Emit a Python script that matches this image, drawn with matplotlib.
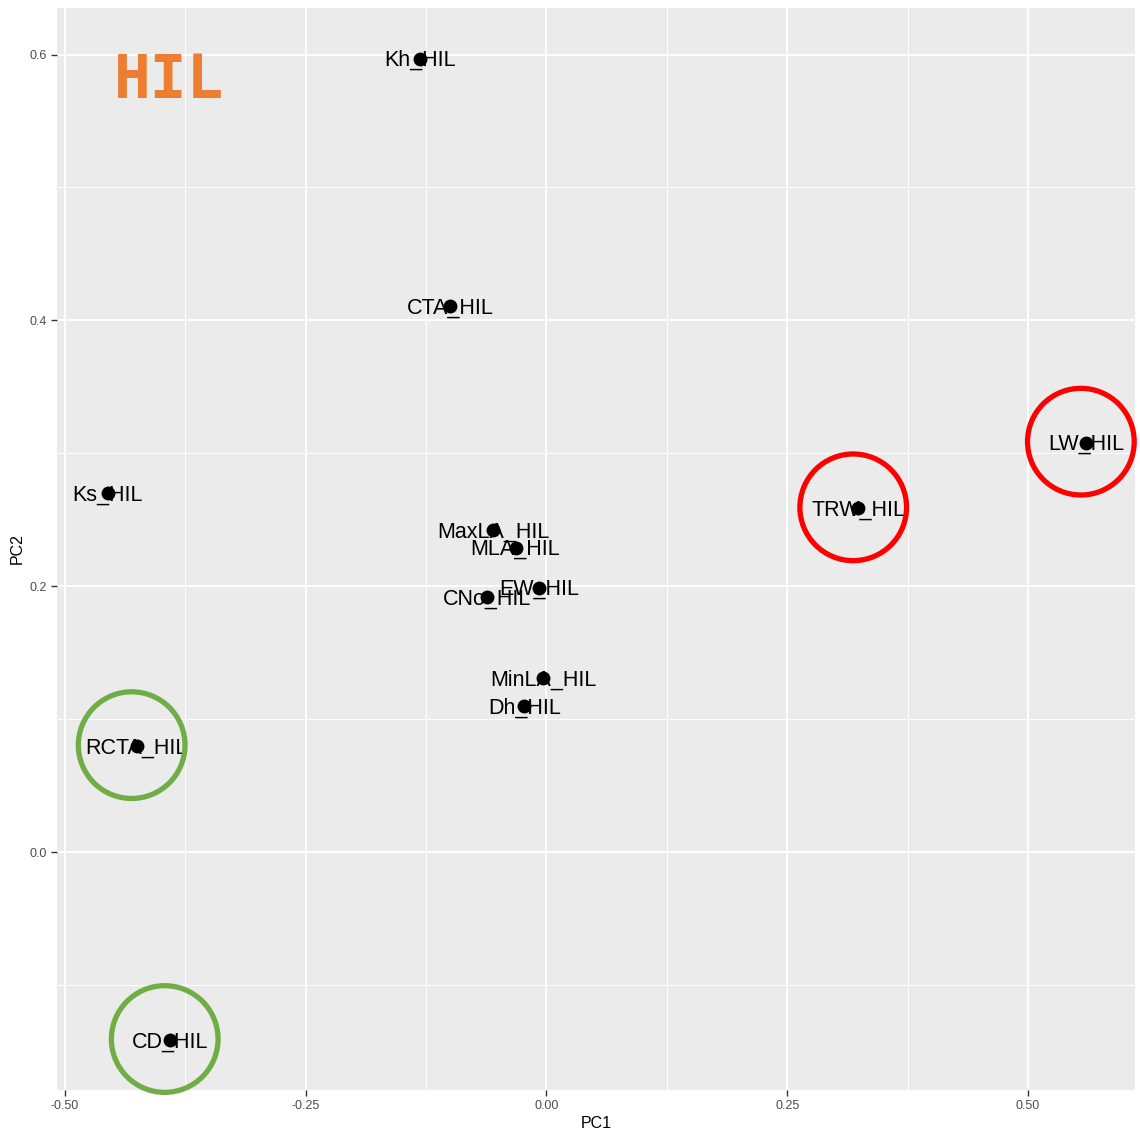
import matplotlib
matplotlib.use("Agg")
import matplotlib.pyplot as plt
import matplotlib.transforms as mtransforms

labels = ["Kh_HIL", "CTA_HIL", "Ks_HIL", "MaxLA_HIL", "MLA_HIL", "EW_HIL", "CNo_HIL",
          "MinLA_HIL", "Dh_HIL", "RCTA_HIL", "CD_HIL", "TRW_HIL", "LW_HIL"]
pc1 = [-0.1307, -0.0996, -0.4554, -0.055, -0.032, -0.0073, -0.062,
       -0.003, -0.0228, -0.4253, -0.391, 0.3237, 0.560]
pc2 = [0.597, 0.4105, 0.270, 0.242, 0.229, 0.199, 0.192,
       0.131, 0.110, 0.0797, -0.1414, 0.2586, 0.308]

red_circled = ["TRW_HIL", "LW_HIL"]
green_circled = ["RCTA_HIL", "CD_HIL"]

xticks = [-0.50, -0.25, 0.00, 0.25, 0.50]
yticks = [0.0, 0.2, 0.4, 0.6]
xminor = [-0.375, -0.125, 0.125, 0.375]
yminor = [-0.1, 0.1, 0.3, 0.5]

plt.rcParams['font.family'] = ['Liberation Sans', 'DejaVu Sans']

fig = plt.figure(figsize=(11.4, 11.38), dpi=100)
ax = fig.add_axes([57/1140, 48/1138, (1135-57)/1140, (1090-8)/1138])
ax.set_facecolor('#EBEBEB')
ax.set_xlim(-0.508, 0.611)
ax.set_ylim(-0.179, 0.635)

for x in xticks:
    ax.axvline(x, color='white', lw=1.4, zorder=0.5)
for x in xminor:
    ax.axvline(x, color='white', lw=0.7, zorder=0.5)
for y in yticks:
    ax.axhline(y, color='white', lw=1.4, zorder=0.5)
for y in yminor:
    ax.axhline(y, color='white', lw=0.7, zorder=0.5)

for s in ax.spines.values():
    s.set_visible(False)

ax.set_xticks(xticks)
ax.set_xticklabels(["-0.50", "-0.25", "0.00", "0.25", "0.50"])
ax.set_yticks(yticks)
ax.set_yticklabels(["0.0", "0.2", "0.4", "0.6"])
ax.tick_params(axis='both', length=4, width=1, color='#333333', labelsize=9,
               labelcolor='#4D4D4D', pad=3)
ax.set_xlabel("PC1", fontsize=11.5, color='black', labelpad=3)
ax.set_ylabel("PC2", fontsize=11.5, color='black', labelpad=4)

text_tr = mtransforms.offset_copy(ax.transData, fig=fig, x=0, y=-2, units='dots')
for lab, x, y in zip(labels, pc1, pc2):
    ax.text(x, y, lab, ha='center', va='center', fontsize=15.5, color='black',
            zorder=2, transform=text_tr)

ax.scatter(pc1, pc2, s=100, color='black', zorder=3, linewidths=0)

ax.text(-0.392, 0.58, "HIL", ha='center', va='center', fontsize=44,
        family='DejaVu Sans Mono', fontweight='bold', color='#ED7D31', zorder=2)

off = mtransforms.offset_copy(ax.transData, fig=fig, x=-5, y=1, units='dots')
for names, col in [(red_circled, '#FF0000'), (green_circled, '#70AD47')]:
    xs = [pc1[labels.index(n)] for n in names]
    ys = [pc2[labels.index(n)] for n in names]
    ax.scatter(xs, ys, s=5900, facecolors='none', edgecolors=col, linewidths=3.8,
               transform=off, clip_on=False, zorder=4)

fig.savefig("out.png", dpi=100)
